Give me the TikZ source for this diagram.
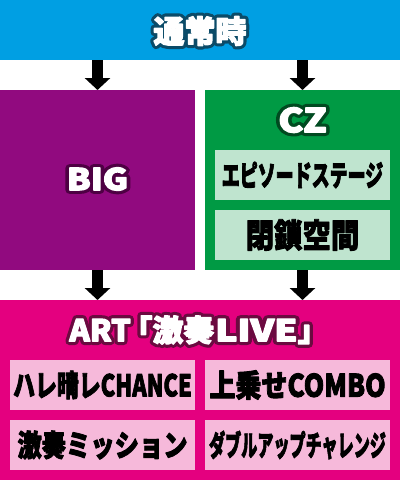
\documentclass[tikz,border=0pt]{standalone}
\usepackage{fontspec}
\usetikzlibrary{arrows.meta}
\newfontfamily\jp{Noto Sans CJK JP}
\definecolor{cblue}{HTML}{009FE3}
\definecolor{cblueo}{HTML}{0B4B68}
\definecolor{cpurple}{HTML}{910A7F}
\definecolor{cpurpleo}{HTML}{4E0043}
\definecolor{cgreen}{HTML}{009A44}
\definecolor{cgreeno}{HTML}{004A20}
\definecolor{clgreen}{HTML}{BFE4CF}
\definecolor{cmag}{HTML}{E4007F}
\definecolor{cmago}{HTML}{6B0A40}
\definecolor{cpink}{HTML}{F6B9DA}
% stroked text (fill + stroke in the current colour)
\newcommand{\stk}[2]{\special{pdf:code 2 Tr #1 w 1 j 1 J}#2\special{pdf:code 0 Tr 1 w}}
% outlined heading: name, position, outline colour, size, xscale, text
\newcommand{\otext}[6]{%
  \node[inner sep=0pt,text=#3,font=\jp\bfseries\fontsize{#4}{#4}\selectfont] at (#2) {\scalebox{#5}[1]{\stk{7.5}{#6}}};
  \node[inner sep=0pt,text=white,font=\jp\bfseries\fontsize{#4}{#4}\selectfont] (#1) at (#2) {\scalebox{#5}[1]{\stk{1.2}{#6}}};%
}
\newcommand{\btext}[5]{% name, position, size, xscale, text
  \node[inner sep=0pt,text=black,font=\jp\bfseries\fontsize{#3}{#3}\selectfont] (#1) at (#2) {\scalebox{#4}[1]{\stk{0.9}{#5}}};%
}
\begin{document}
\begin{tikzpicture}[x=1pt,y=-1pt,
  box/.style={draw=none,minimum width=#1,inner sep=0pt,outer sep=0pt},
  flow/.style={line width=11pt,-{Triangle[width=25pt,length=12pt]}}]
\useasboundingbox (0,0) rectangle (400,480);
% boxes
\node[box=400pt,minimum height=60pt,fill=cblue] (top) at (200,30) {};
\node[box=195pt,minimum height=180pt,fill=cpurple] (big) at (97.5,180) {};
\node[box=195pt,minimum height=180pt,fill=cgreen] (cz) at (302.5,180) {};
\node[box=175pt,minimum height=50pt,fill=clgreen] (ep) at (302.5,175) {};
\node[box=175pt,minimum height=50pt,fill=clgreen] (hs) at (302.5,235) {};
\node[box=400pt,minimum height=180pt,fill=cmag] (art) at (200,390) {};
\node[box=185pt,minimum height=50pt,fill=cpink] (p1) at (102.5,385) {};
\node[box=185pt,minimum height=50pt,fill=cpink] (p2) at (297.5,385) {};
\node[box=185pt,minimum height=50pt,fill=cpink] (p3) at (102.5,445) {};
\node[box=185pt,minimum height=50pt,fill=cpink] (p4) at (297.5,445) {};
% arrows
\draw[flow] (top.south -| big.north) -- (big.north);
\draw[flow] (top.south -| cz.north) -- (cz.north);
\draw[flow] (big.south) -- (art.north -| big.south);
\draw[flow] (cz.south) -- (art.north -| cz.south);
% headings
\otext{tt}{200,31}{cblueo}{31}{1.0}{通常時}
\otext{bt}{97.5,179}{cpurpleo}{30}{1.15}{BIG}
\otext{ct}{302.5,120}{cgreeno}{33}{1.15}{CZ}
\otext{at}{199,330}{cmago}{30}{1.03}{ART\kern-9pt「激奏\kern1pt\scalebox{1.2}[1]{LIVE}」}
% inner texts
\btext{ept}{ep}{29}{0.62}{エピソードステージ}
\btext{hst}{hs}{33}{0.86}{閉鎖空間}
\btext{p1t}{p1}{30}{0.73}{ハレ晴レCHANCE}
\btext{p2t}{p2}{31}{0.84}{上乗せCOMBO}
\btext{p3t}{p3}{30}{0.81}{激奏ミッション}
\btext{p4t}{p4}{29}{0.555}{ダブルアップチャレンジ}
\end{tikzpicture}
\end{document}
